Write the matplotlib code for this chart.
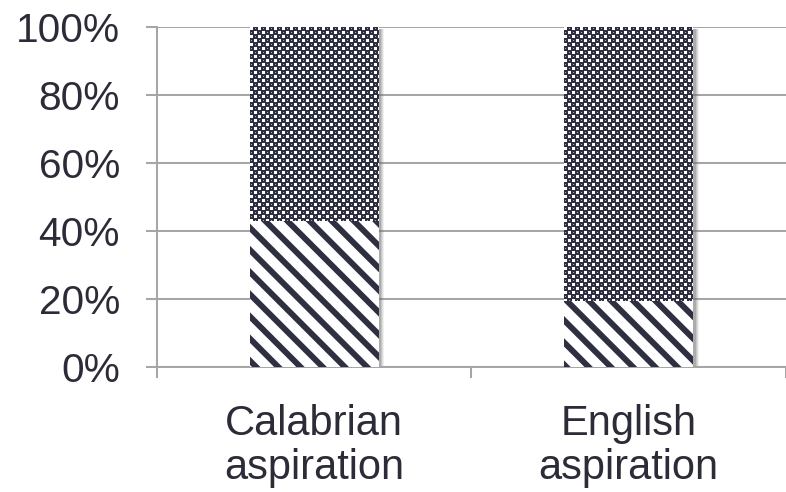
import numpy as np
import matplotlib
matplotlib.use("Agg")
import matplotlib.pyplot as plt
import matplotlib.transforms as mtransforms
from matplotlib.ticker import FixedLocator, PercentFormatter

# shares of each variant, in percent
categories = ["Calabrian\naspiration", "English\naspiration"]
lower_share = [43, 19.5]
upper_share = [57, 80.5]

DARK = "#2e2f40"
GRID = "#a6a6a6"
TEXT = "#2b2c38"
DPI = 133

plt.rcParams["font.family"] = ["Liberation Sans", "DejaVu Sans"]
plt.rcParams["hatch.linewidth"] = 3.2

fig = plt.figure(figsize=(786 / DPI, 492 / DPI), dpi=DPI)
ax = fig.add_axes([0.1997, 0.254, 0.8003, 0.691])

x = np.arange(len(categories))
width = 0.41
totals = [a + b for a, b in zip(lower_share, upper_share)]

# soft drop shadow behind each stacked bar
for dx, alpha in [(5.5, 0.10), (4.5, 0.15), (3.5, 0.2), (2.5, 0.3)]:
    off = mtransforms.ScaledTranslation(dx / DPI, -2 / DPI, fig.dpi_scale_trans)
    ax.bar(x, totals, width, color="#707070", edgecolor="none", alpha=alpha,
           zorder=2, transform=ax.transData + off)

# edgecolor sets the stripe colour, linewidth 0 hides the outline
low = ax.bar(x, lower_share, width, color="white", edgecolor=DARK, linewidth=0,
             hatch="\\\\", zorder=3)
up = ax.bar(x, upper_share, width, bottom=lower_share, color="none",
            edgecolor="none", zorder=3)

ax.set_xlim(-0.5, 1.5)
ax.set_ylim(0, 100)

# small dotted-grid texture for the upper segments
tile = np.zeros((8, 8))
tile[0:3, 0:3] = 1
tile[4:7, 4:7] = 1
tile[1, 5] = 0.6
tile[5, 1] = 0.6
cmap = matplotlib.colors.LinearSegmentedColormap.from_list("dots", [DARK, "white"])

fig.canvas.draw()
for b in up:
    ext = b.get_window_extent()
    w_px, h_px = int(round(ext.width)), int(round(ext.height))
    img = np.tile(tile, (h_px // 8 + 2, w_px // 8 + 2))[:h_px, :w_px]
    x0, y0 = b.get_x(), b.get_y()
    im = ax.imshow(img, cmap=cmap, vmin=0, vmax=1, interpolation="nearest",
                   extent=(x0, x0 + b.get_width(), y0, y0 + b.get_height()),
                   aspect="auto", zorder=4)
    im.set_clip_path(b)

# gridlines and axis styling
ax.yaxis.set_major_locator(FixedLocator([0, 20, 40, 60, 80, 100]))
ax.yaxis.set_major_formatter(PercentFormatter(decimals=0))
ax.grid(axis="y", color=GRID, linewidth=1.1, zorder=0)
ax.set_axisbelow(True)

ax.set_xticks(x)
ax.set_xticklabels(categories)
ax.set_xticks([-0.5, 0.5, 1.5], minor=True)
ax.tick_params(axis="x", which="major", length=0, pad=20, labelsize=22.5, labelcolor=TEXT)
ax.tick_params(axis="x", which="minor", length=6, width=1.1, color=GRID)
ax.tick_params(axis="y", length=6, width=1.1, color=GRID, pad=14, labelsize=22, labelcolor=TEXT)
for lab in ax.get_xticklabels():
    lab.set_linespacing(1.12)

for s in ["top", "right"]:
    ax.spines[s].set_visible(False)
for s in ["left", "bottom"]:
    ax.spines[s].set_color(GRID)
    ax.spines[s].set_linewidth(1.1)

fig.savefig("out.png", dpi=DPI)
